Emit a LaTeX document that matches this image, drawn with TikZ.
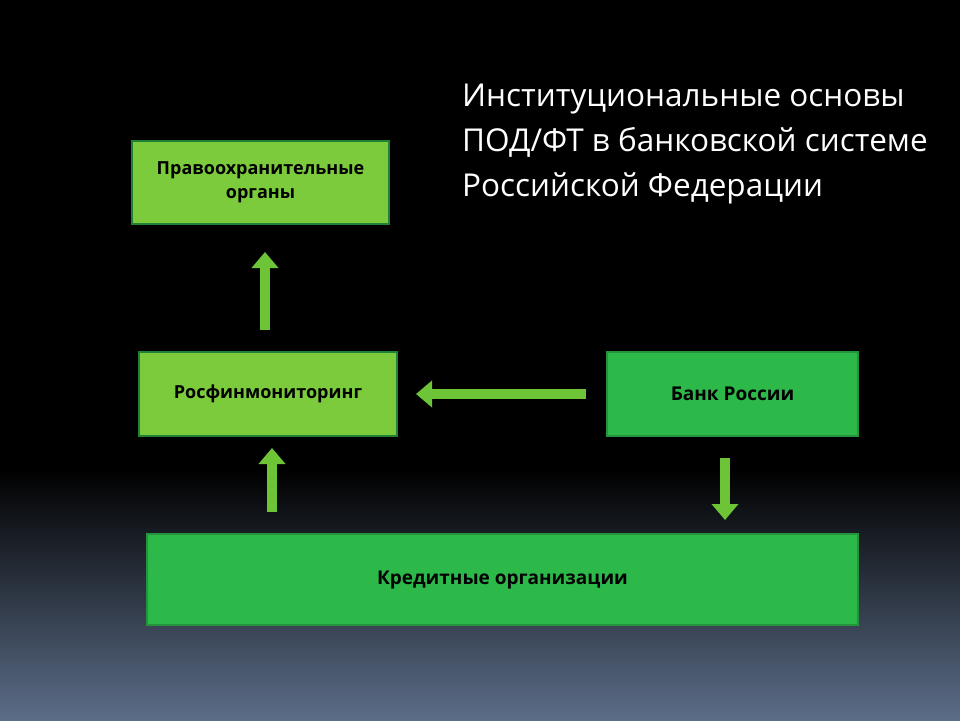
\documentclass[tikz,border=0pt]{standalone}
\usepackage{fontspec}
\setmainfont{Open Sans}
\usetikzlibrary{arrows.meta}
\definecolor{lgreen}{HTML}{7CCB3C}
\definecolor{dgreen}{HTML}{2DB84A}
\definecolor{arr}{HTML}{6CC436}
\definecolor{bot}{HTML}{5C6D88}
\tikzset{
  lbox/.style={draw=dgreen!70!black, line width=1.5pt, fill=lgreen, align=center, font=\fontsize{18}{24}\selectfont\bfseries, text=black},
  dbox/.style={draw=dgreen!80!black, line width=1.5pt, fill=dgreen, align=center, font=\fontsize{19}{24}\selectfont\bfseries, text=black},
  fatarrow/.style={draw=arr, line width=10pt, -{Triangle[width=26pt,length=16pt]}}
}
\begin{document}
\begin{tikzpicture}[x=1pt, y=-1pt]
    % background
    \fill[black] (0,0) rectangle (960,470);
    \shade[top color=black, bottom color=bot] (0,469) rectangle (960,720);
    \useasboundingbox (0,0) rectangle (960,720);

    % title
    \node[anchor=north west, align=left, text=white, inner sep=0pt, font=\fontsize{31.5}{45}\selectfont] (title) at (462,84)
      {Институциональные основы\\ПОД/ФТ в банковской системе\\Российской Федерации};

    % boxes
    \node[lbox, minimum width=257pt, minimum height=83pt] (pravo) at (260.5,182.5) {Правоохранительные\\органы};
    \node[lbox, minimum width=258pt, minimum height=84pt] (rosfin) at (268,394) {Росфинмониторинг};
    \node[dbox, minimum width=251pt, minimum height=84pt] (bank) at (732.5,394) {Банк России};
    \node[dbox, minimum width=711pt, minimum height=91pt] (kredit) at (502.5,579.5) {Кредитные организации};

    % arrow ends
    \coordinate (a1s) at (265,330);
    \coordinate (a1e) at (265,252);
    \coordinate (a2s) at (586,394);
    \coordinate (a2e) at (416,394);
    \coordinate (a3s) at (272,512);
    \coordinate (a3e) at (272,448);
    \coordinate (a4s) at (725,458);
    \coordinate (a4e) at (725,520);

    \draw[fatarrow] (a1s) -- (a1e);
    \draw[fatarrow] (a2s) -- (a2e);
    \draw[fatarrow] (a3s) -- (a3e);
    \draw[fatarrow] (a4s) -- (a4e);
\end{tikzpicture}
\end{document}
